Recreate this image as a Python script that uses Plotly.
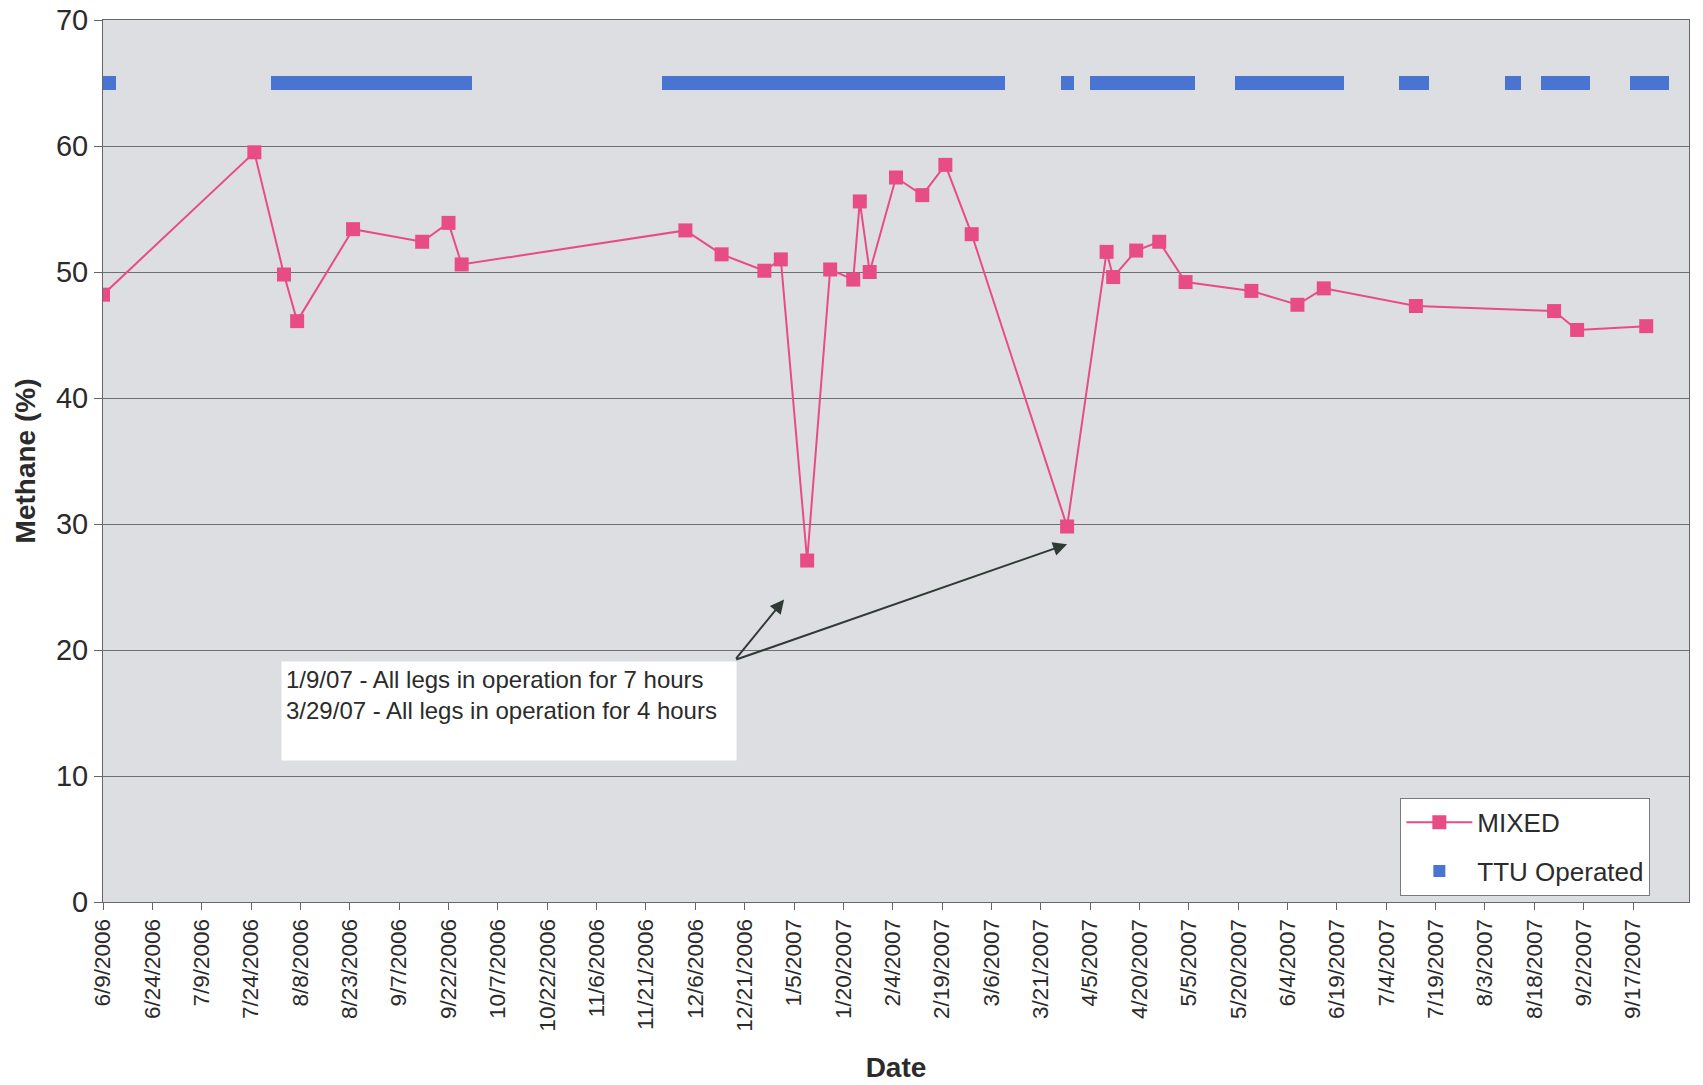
import pandas as pd
import plotly.graph_objects as go

# Methane readings for the MIXED sample point
mixed_dates = [
    "2006-06-09", "2006-07-25", "2006-08-03", "2006-08-07", "2006-08-24",
    "2006-09-14", "2006-09-22", "2006-09-26", "2006-12-03", "2006-12-14",
    "2006-12-27", "2007-01-01", "2007-01-09", "2007-01-16", "2007-01-23",
    "2007-01-25", "2007-01-28", "2007-02-05", "2007-02-13", "2007-02-20",
    "2007-02-28", "2007-03-29", "2007-04-10", "2007-04-12", "2007-04-19",
    "2007-04-26", "2007-05-04", "2007-05-24", "2007-06-07", "2007-06-15",
    "2007-07-13", "2007-08-24", "2007-08-31", "2007-09-21",
]
mixed_methane = [
    48.2, 59.5, 49.8, 46.1, 53.4,
    52.4, 53.9, 50.6, 53.3, 51.4,
    50.1, 51.0, 27.1, 50.2, 49.4,
    55.6, 50.0, 57.5, 56.1, 58.5,
    53.0, 29.8, 51.6, 49.6, 51.7,
    52.4, 49.2, 48.5, 47.4, 48.7,
    47.3, 46.9, 45.4, 45.7,
]

# Periods when the TTU was operated, drawn as a band at a fixed level
ttu_start = [
    "2006-06-07", "2006-07-30", "2006-11-26", "2007-03-27", "2007-04-05",
    "2007-05-19", "2007-07-08", "2007-08-09", "2007-08-20", "2007-09-16",
]
ttu_end = [
    "2006-06-13", "2006-09-29", "2007-03-10", "2007-03-31", "2007-05-07",
    "2007-06-21", "2007-07-17", "2007-08-14", "2007-09-04", "2007-09-28",
]
ttu_level = 65

# Date axis labels (15-day steps)
tick_labels = [
    "6/9/2006", "6/24/2006", "7/9/2006", "7/24/2006", "8/8/2006", "8/23/2006",
    "9/7/2006", "9/22/2006", "10/7/2006", "10/22/2006", "11/6/2006",
    "11/21/2006", "12/6/2006", "12/21/2006", "1/5/2007", "1/20/2007",
    "2/4/2007", "2/19/2007", "3/6/2007", "3/21/2007", "4/5/2007", "4/20/2007",
    "5/5/2007", "5/20/2007", "6/4/2007", "6/19/2007", "7/4/2007", "7/19/2007",
    "8/3/2007", "8/18/2007", "9/2/2007", "9/17/2007",
]

note_lines = [
    "1/9/07 - All legs in operation for 7 hours",
    "3/29/07 - All legs in operation for 4 hours",
]

FONT = "Liberation Sans, Arial, sans-serif"
TEXT = "#2b2b2b"
PINK = "#E84C84"
BLUE = "#4A74D2"

tick_vals = pd.to_datetime(tick_labels, format="%m/%d/%Y")
starts = pd.to_datetime(ttu_start)
ends = pd.to_datetime(ttu_end)
durations_ms = [(e - s).total_seconds() * 1000 for s, e in zip(starts, ends)]

fig = go.Figure()

fig.add_trace(go.Scatter(
    x=pd.to_datetime(mixed_dates), y=mixed_methane, name="MIXED",
    legendgroup="mixed",
    mode="lines+markers",
    line=dict(color=PINK, width=2),
    marker=dict(symbol="square", size=14, color=PINK),
))

fig.add_trace(go.Bar(
    orientation="h", name="TTU Operated", legendgroup="ttu",
    base=starts, x=durations_ms, y=[ttu_level] * len(starts),
    width=1.1, marker=dict(color=BLUE, line=dict(width=0)),
))

# Note box and arrows pointing at the two low readings
fig.add_annotation(
    x="2006-08-02", y=19.1, xref="x", yref="y",
    xanchor="left", yanchor="top",
    text="<br>".join(note_lines), showarrow=False,
    align="left", valign="top", width=446, height=90,
    bgcolor="white", borderpad=4,
    font=dict(family=FONT, size=24, color=TEXT),
)
for head_x, head_y in [("2007-01-02", 24.0), ("2007-03-29", 28.4)]:
    fig.add_annotation(
        x=head_x, y=head_y, ax="2006-12-18", ay=19.2,
        xref="x", yref="y", axref="x", ayref="y",
        text="", showarrow=True, arrowhead=2, arrowsize=1.4,
        arrowwidth=2, arrowcolor="#2f3a34", standoff=0,
    )

fig.update_layout(
    width=1703, height=1085,
    margin=dict(l=103, r=14, t=20, b=183),
    paper_bgcolor="white", plot_bgcolor="#DDDEE2",
    font=dict(family=FONT, color=TEXT),
    showlegend=True,
    legend=dict(
        x=0.818, y=0.118, xanchor="left", yanchor="top",
        bgcolor="white", bordercolor="#7a7a7a", borderwidth=1,
        font=dict(family=FONT, size=26, color=TEXT),
        traceorder="grouped", tracegroupgap=12, itemwidth=66,
    ),
    bargap=0,
)

fig.update_xaxes(
    type="date", range=["2006-06-09", "2007-10-04"],
    tickvals=tick_vals, ticktext=tick_labels, tickangle=-90,
    ticks="outside", ticklen=7, tickcolor="#666",
    tickfont=dict(family=FONT, size=22.5, color=TEXT),
    showgrid=False, showline=True, linecolor="#666", linewidth=1,
    mirror=True, zeroline=False, automargin=False,
    title=dict(text="<b>Date</b>", standoff=26,
               font=dict(family=FONT, size=28, color=TEXT)),
)
fig.update_yaxes(
    range=[0, 70], dtick=10,
    ticks="outside", ticklen=8, tickcolor="#666",
    tickfont=dict(family=FONT, size=29, color=TEXT),
    showgrid=True, gridcolor="#6e6e6e", gridwidth=1,
    showline=True, linecolor="#666", linewidth=1, mirror=True,
    zeroline=False, automargin=False,
    title=dict(text="<b>Methane (%)</b>", standoff=12,
               font=dict(family=FONT, size=28, color=TEXT)),
)

fig.write_html("out.html")
